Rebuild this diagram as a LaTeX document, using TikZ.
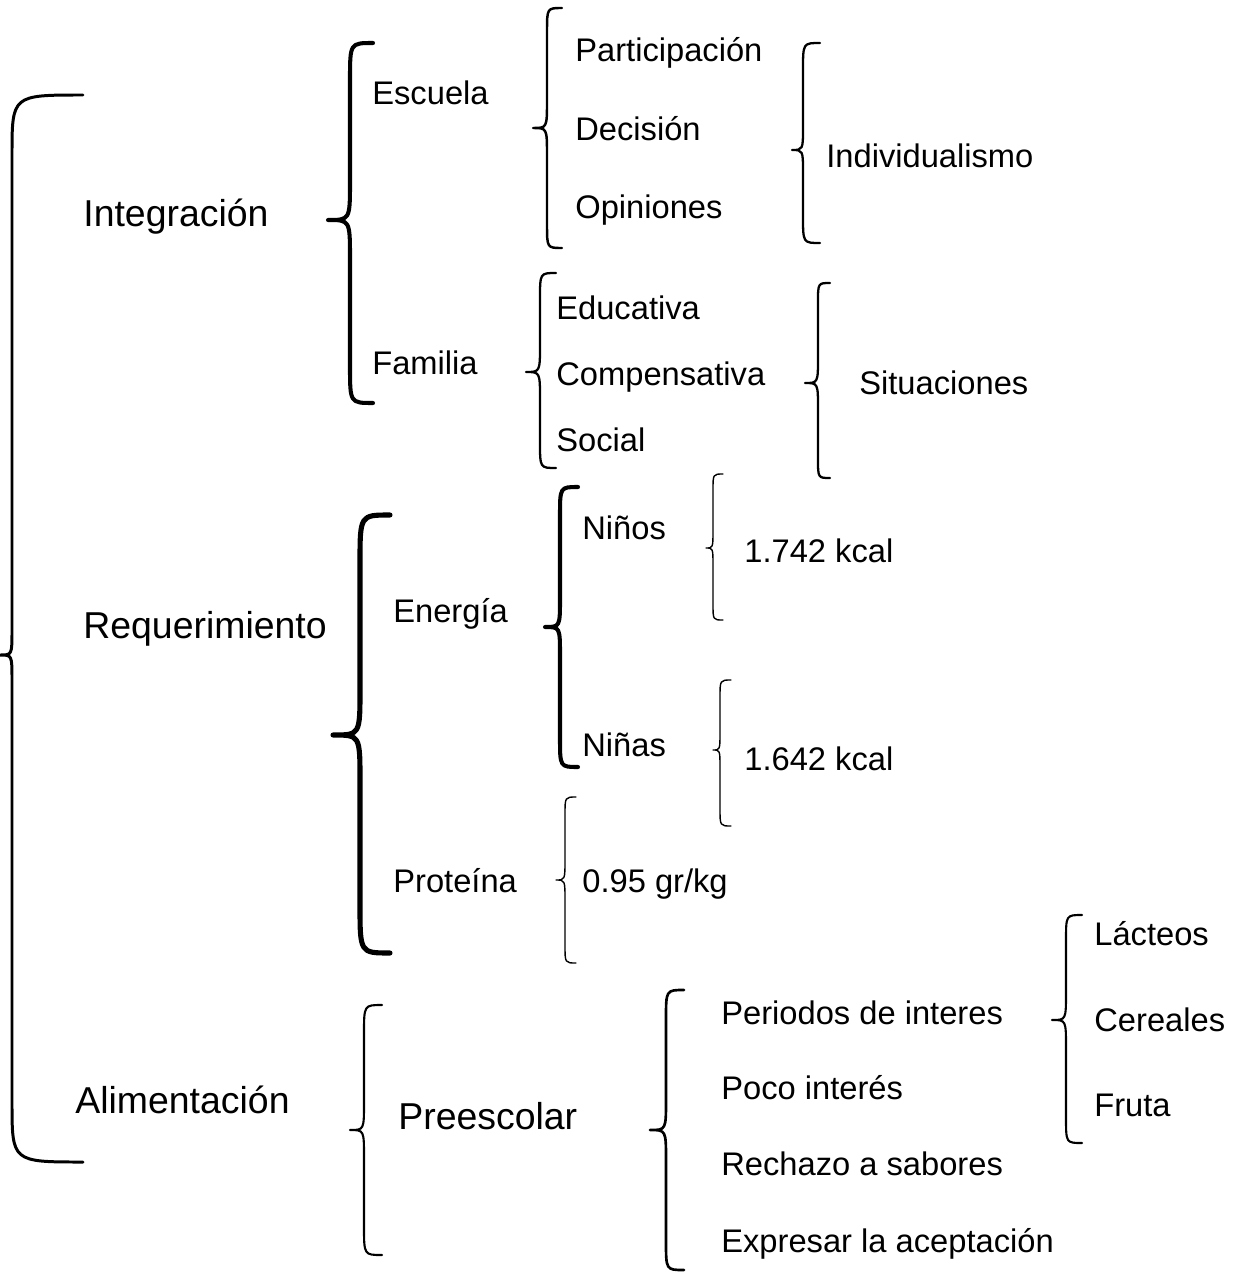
\documentclass[tikz,border=0pt]{standalone}
\usepackage{fontspec}
\setmainfont{Liberation Sans}
\usetikzlibrary{positioning}
\tikzset{
  map/big/.style={anchor=base west, inner sep=0pt,
    font=\fontsize{21.3}{25}\selectfont},
  map/item/.style={anchor=base west, inner sep=0pt,
    font=\fontsize{18.6}{22}\selectfont},
  map/brace/.style={draw=black, line width=1.3pt, line cap=round, line join=round}
}
% [style]{end x}{spine x}{tip x}{top y}{tip y}{bottom y}
\newcommand\curly[7][]{%
  \draw[map/brace,#1] (#2,#5)
    .. controls (#3,#5) .. ({#3},{#5+min(1.6*(#2-#3),60)})
    -- ({#3},{#6-1.4*(#3-#4)-8})
    .. controls (#3,#6) .. (#4,#6)
    .. controls (#3,#6) .. ({#3},{#6+1.4*(#3-#4)+8})
    -- ({#3},{#7-min(1.6*(#2-#3),60)})
    .. controls (#3,#7) .. (#2,#7);}

\begin{document}
\begin{tikzpicture}[x=0.02cm,y=-0.02cm]
  \useasboundingbox (0,0) rectangle (1233,1274);
  \node[map/big] (integ) at (83,226) {Integración};
  \node[map/big] (req) at (83,638) {Requerimiento};
  \node[map/big] (alim) at (75,1113) {Alimentación};
  \node[map/item] (escuela) at (372,105) {Escuela};
  \node[map/item] (familia) at (372,374) {Familia};
  \node[map/item] (partic) at (575,62) {Participación};
  \node[map/item] (decision) at (575,140) {Decisión};
  \node[map/item] (opin) at (575,218) {Opiniones};
  \node[map/item] (indiv) at (826,167) {Individualismo};
  \node[map/item] (educ) at (556,319) {Educativa};
  \node[map/item] (comp) at (556,385) {Compensativa};
  \node[map/item] (social) at (556,451) {Social};
  \node[map/item] (situ) at (859,394) {Situaciones};
  \node[map/item] (energia) at (393,622) {Energía};
  \node[map/item] (proteina) at (393,892) {Proteína};
  \node[map/item] (ninos) at (582,539) {Niños};
  \node[map/item] (ninas) at (582,756) {Niñas};
  \node[map/item] (kcala) at (744,562) {1.742 kcal};
  \node[map/item] (kcalb) at (744,770) {1.642 kcal};
  \node[map/item] (gkg) at (582,892) {0.95 gr/kg};
  \node[map/big] (preesc) at (398,1129) {Preescolar};
  \node[map/item] (periodos) at (721,1024) {Periodos de interes};
  \node[map/item] (poco) at (721,1099) {Poco interés};
  \node[map/item] (rechazo) at (721,1175) {Rechazo a sabores};
  \node[map/item] (expresar) at (721,1252) {Expresar la aceptación};
  \node[map/item] (lacteos) at (1094,945) {Lácteos};
  \node[map/item] (cereales) at (1094,1031) {Cereales};
  \node[map/item] (fruta) at (1094,1116) {Fruta};

  \curly[line width=1.7pt]{83}{12}{0}{95}{655}{1162}
  \curly[line width=2.3pt]{373}{350}{328}{43}{220}{403}
  \curly[line width=1.4pt]{562}{547}{533}{8}{128}{248}
  \curly{820}{803}{792}{43}{150}{243}
  \curly{556}{540}{526}{273}{372}{468}
  \curly{830}{818}{805}{283}{383}{478}
  \curly[line width=2.9pt]{390}{360}{333}{515}{735}{953}
  \curly[line width=2.3pt]{578}{560}{545}{487}{627}{767}
  \curly[line width=.8pt]{723}{713}{706}{474}{548}{620}
  \curly[line width=.8pt]{731}{720}{713}{680}{750}{826}
  \curly[line width=.8pt]{576}{565}{556}{797}{880}{963}
  \curly[line width=1.2pt]{382}{364}{350}{1005}{1130}{1255}
  \curly[line width=1.5pt]{684}{666}{650}{990}{1130}{1270}
  \curly[line width=1.2pt]{1082}{1066}{1052}{915}{1020}{1143}
\end{tikzpicture}
\end{document}
